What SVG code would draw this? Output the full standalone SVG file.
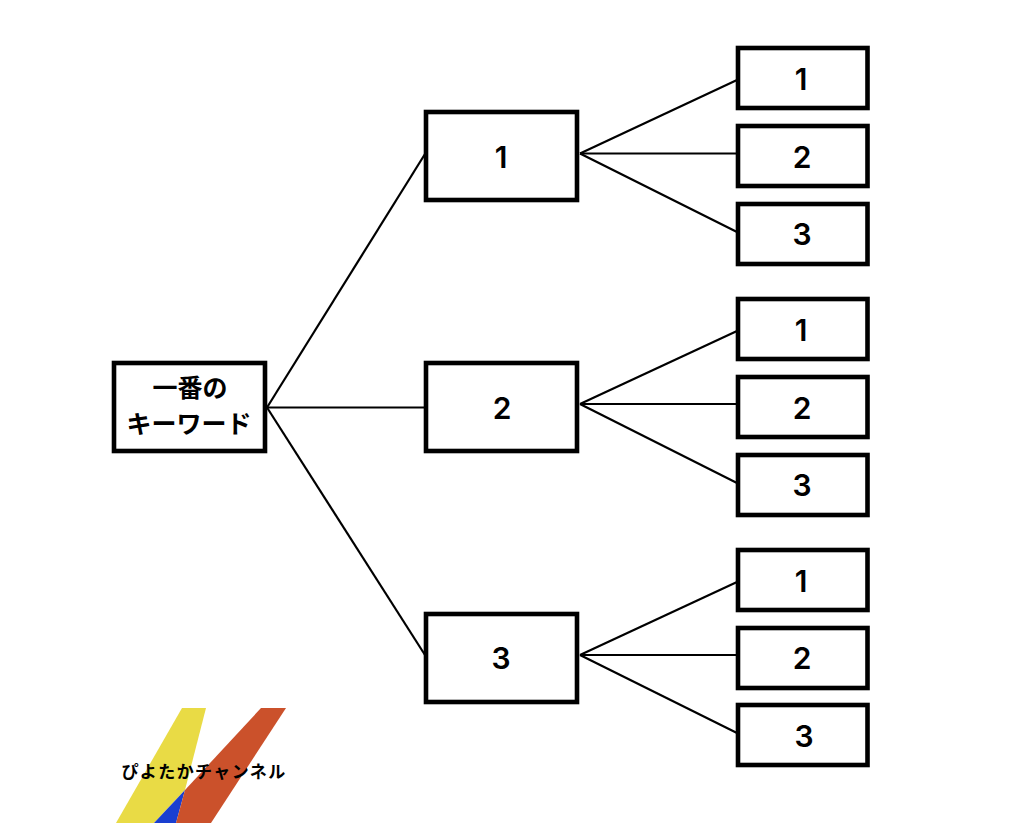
<svg xmlns="http://www.w3.org/2000/svg" width="1024" height="832" viewBox="0 0 1024 832">
<style>
.b{fill:#fff;stroke:#000;stroke-width:4.6}
.c line{stroke:#000;stroke-width:2.2;fill:none}
text{font-family:"Inter","Noto Sans CJK JP",sans-serif;fill:#000;text-anchor:middle}
.n{font-size:30px;font-weight:600}
.j{font-family:"Noto Sans CJK JP",sans-serif;font-size:25px;font-weight:700}
.l{font-family:"Noto Sans CJK JP",sans-serif;font-size:17px;font-weight:700;letter-spacing:1.4px}
</style>
<rect width="1024" height="832" fill="#fff"/>
<g id="connectors" class="c">
<line x1="267" y1="407.5" x2="425" y2="154"/>
<line x1="267" y1="407.5" x2="425" y2="407.5"/>
<line x1="267" y1="407.5" x2="425" y2="655"/>
<line x1="580" y1="153.5" x2="737" y2="80"/>
<line x1="580" y1="153.5" x2="737" y2="153.5"/>
<line x1="580" y1="153.5" x2="737" y2="232"/>
<line x1="580" y1="404" x2="737" y2="331"/>
<line x1="580" y1="404" x2="737" y2="404"/>
<line x1="580" y1="404" x2="737" y2="483"/>
<line x1="580" y1="655" x2="737" y2="582"/>
<line x1="580" y1="655" x2="737" y2="655"/>
<line x1="580" y1="655" x2="737" y2="733"/>
</g>
<g id="root"><rect class="b" x="114" y="363" width="151" height="88"/><text class="j" x="190" y="397">一番の</text><text class="j" x="189" y="433">キーワード</text></g>
<g id="n1"><rect class="b" x="426" y="112" width="151" height="88"/><text class="n" x="501" y="168">1</text></g>
<g id="n2"><rect class="b" x="426" y="363" width="151" height="88"/><text class="n" x="502" y="419">2</text></g>
<g id="n3"><rect class="b" x="426" y="614" width="151" height="88"/><text class="n" x="501" y="669">3</text></g>
<g id="n1-1"><rect class="b" x="738" y="48" width="129.500" height="60"/><text class="n" x="801" y="90">1</text></g>
<g id="n1-2"><rect class="b" x="738" y="126" width="129.500" height="60"/><text class="n" x="802" y="168">2</text></g>
<g id="n1-3"><rect class="b" x="738" y="204" width="129.500" height="60"/><text class="n" x="802" y="245">3</text></g>
<g id="n2-1"><rect class="b" x="738" y="299" width="129.500" height="60"/><text class="n" x="801" y="341">1</text></g>
<g id="n2-2"><rect class="b" x="738" y="377" width="129.500" height="60"/><text class="n" x="802" y="419">2</text></g>
<g id="n2-3"><rect class="b" x="738" y="455" width="129.500" height="60"/><text class="n" x="802" y="496">3</text></g>
<g id="n3-1"><rect class="b" x="738" y="550" width="129.500" height="60"/><text class="n" x="801" y="592">1</text></g>
<g id="n3-2"><rect class="b" x="738" y="628" width="129.500" height="60"/><text class="n" x="802" y="669">2</text></g>
<g id="n3-3"><rect class="b" x="738" y="705" width="129.500" height="60"/><text class="n" x="804" y="747">3</text></g>
<g id="logo">
<polygon points="182,708 206,708 185,790 154,823 116,823" fill="#e9db45"/>
<polygon points="185,790 154,823 176,823" fill="#1a3fd0"/>
<polygon points="261,708 286,708 211,823 176,823 185,790" fill="#cb512b"/>
<text class="l" x="204" y="778">ぴよたかチャンネル</text>
</g>
</svg>
